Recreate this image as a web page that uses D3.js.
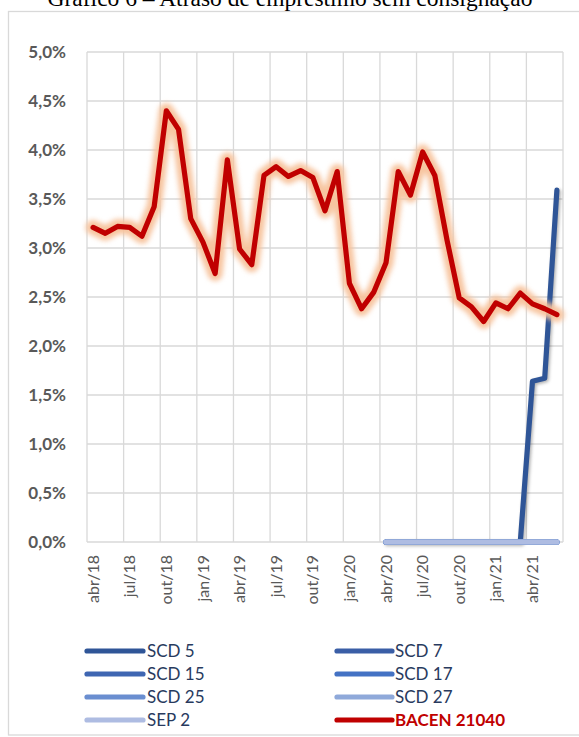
<!DOCTYPE html>
<html>
<head>
<meta charset="utf-8">
<script src="https://cdn.jsdelivr.net/npm/d3@7"></script>
<style>
  html, body { margin: 0; padding: 0; background: #fff; }
  svg { display: block; }
</style>
</head>
<body>
<div id="chart"></div>
<script>
// ---------- DATA ----------
const title = "Gráfico 6 – Atraso de empréstimo sem consignação";

const months = [
  "abr/18","mai/18","jun/18","jul/18","ago/18","set/18","out/18","nov/18","dez/18",
  "jan/19","fev/19","mar/19","abr/19","mai/19","jun/19","jul/19","ago/19","set/19","out/19","nov/19","dez/19",
  "jan/20","fev/20","mar/20","abr/20","mai/20","jun/20","jul/20","ago/20","set/20","out/20","nov/20","dez/20",
  "jan/21","fev/21","mar/21","abr/21","mai/21","jun/21"
];

const tickLabels = ["abr/18","jul/18","out/18","jan/19","abr/19","jul/19","out/19","jan/20","abr/20","jul/20","out/20","jan/21","abr/21"];

const yTicks = [0, 0.5, 1.0, 1.5, 2.0, 2.5, 3.0, 3.5, 4.0, 4.5, 5.0];

const N = null;
const bacen21040 = [
  3.21, 3.15, 3.22, 3.21, 3.12, 3.42, 4.40, 4.21, 3.30,
  3.06, 2.74, 3.90, 2.99, 2.83, 3.74, 3.83, 3.73, 3.79, 3.72, 3.38, 3.78,
  2.64, 2.38, 2.55, 2.85, 3.78, 3.54, 3.98, 3.74, 3.08, 2.49, 2.40, 2.25,
  2.44, 2.38, 2.54, 2.43, 2.38, 2.32
];
const scd5 = [
  N,N,N,N,N,N,N,N,N, N,N,N,N,N,N,N,N,N,N,N,N, N,N,N,
  0,0,0,0,0,0,0,0,0, 0,0,0, 1.64, 1.67, 3.59
];
const zerosFromAbr20 = [
  N,N,N,N,N,N,N,N,N, N,N,N,N,N,N,N,N,N,N,N,N, N,N,N,
  0,0,0,0,0,0,0,0,0, 0,0,0,0,0,0
];
const scd7 = zerosFromAbr20.slice();
const scd15 = zerosFromAbr20.slice();
const scd17 = zerosFromAbr20.slice();
const scd25 = zerosFromAbr20.slice();
const scd27 = zerosFromAbr20.slice();
const sep2 = zerosFromAbr20.slice();

const seriesNames  = ["SCD 5","SCD 7","SCD 15","SCD 17","SCD 25","SCD 27","SEP 2","BACEN 21040"];
const seriesValues = [scd5, scd7, scd15, scd17, scd25, scd27, sep2, bacen21040];
const seriesColors = ["#2F5597","#3A5EA6","#3F66B2","#4472C4","#6A8ED0","#8FA9DA","#AEBCE2","#C00000"];

// ---------- LAYOUT ----------
const W = 579, H = 737;
const plot = { left: 87, right: 563, top: 52, bottom: 542 };

const svg = d3.select("#chart").append("svg")
  .attr("width", W).attr("height", H);

const defs = svg.append("defs");
const blur = defs.append("filter").attr("id", "blur")
  .attr("filterUnits", "userSpaceOnUse")
  .attr("color-interpolation-filters", "sRGB")
  .attr("x", 0).attr("y", 0).attr("width", W).attr("height", H);
blur.append("feGaussianBlur").attr("stdDeviation", 2.5);

const shadow = defs.append("filter").attr("id", "shadow")
  .attr("filterUnits", "userSpaceOnUse")
  .attr("color-interpolation-filters", "sRGB")
  .attr("x", 0).attr("y", 0).attr("width", W).attr("height", H);
shadow.append("feDropShadow").attr("dx", 1.5).attr("dy", 1.5).attr("stdDeviation", 1.5)
  .attr("flood-color", "#000").attr("flood-opacity", 0.3);

// chart border
svg.append("rect")
  .attr("x", 8.5).attr("y", 11.5).attr("width", W + 10).attr("height", 735 - 11.5)
  .attr("fill", "none").attr("stroke", "#D9D9D9").attr("stroke-width", 1.3);

// title (partially cropped at top, as in the reference)
svg.append("text")
  .attr("x", 290).attr("y", 6)
  .attr("text-anchor", "middle")
  .attr("font-family", "'Liberation Serif','Times New Roman',serif")
  .attr("font-size", 23.5)
  .attr("fill", "#000")
  .text(title);

// scales
const x = d3.scaleBand().domain(months).range([plot.left, plot.right]);
const xc = d => x(d) + x.bandwidth() / 2;
const y = d3.scaleLinear().domain([0, 5]).range([plot.bottom, plot.top]);

const locale = d3.formatLocale({ decimal: ",", thousands: ".", grouping: [3], currency: ["R$", ""] });
const fmt = v => locale.format(".1f")(v) + "%";

// gridlines
const grid = svg.append("g").attr("stroke", "#D9D9D9").attr("stroke-width", 1.3);
yTicks.forEach(t => {
  grid.append("line").attr("x1", plot.left).attr("x2", plot.right)
    .attr("y1", y(t)).attr("y2", y(t));
});
const vLines = tickLabels.map(m => x(m)).concat([plot.right]);
vLines.forEach(vx => {
  grid.append("line").attr("x1", vx).attr("x2", vx)
    .attr("y1", plot.top).attr("y2", plot.bottom);
});

// y axis
const yAxis = d3.axisLeft(y).tickValues(yTicks).tickFormat(fmt).tickSize(0).tickPadding(0);
const yg = svg.append("g").attr("transform", `translate(66,0)`).call(yAxis);
yg.select(".domain").remove();
yg.selectAll("text")
  .attr("font-family", "Lato, 'Open Sans', sans-serif")
  .attr("font-weight", "bold")
  .attr("font-size", 17)
  .attr("fill", "#595959")
  .attr("dy", "0.35em");

// x axis
const xAxis = d3.axisBottom(x).tickValues(tickLabels).tickSize(0).tickPadding(0);
const xg = svg.append("g").attr("transform", `translate(0,${plot.bottom})`).call(xAxis);
xg.select(".domain").remove();
xg.selectAll("text")
  .attr("font-family", "Lato, 'Open Sans', sans-serif")
  .attr("font-size", 16)
  .attr("fill", "#595959")
  .attr("text-anchor", "end")
  .attr("transform", "rotate(-90)")
  .attr("x", -13)
  .attr("y", 0)
  .attr("dy", "0.35em");

// lines
const line = d3.line()
  .defined(d => d.v !== null)
  .x(d => xc(d.m))
  .y(d => y(d.v));

seriesNames.forEach((name, i) => {
  const data = months.map((m, k) => ({ m, v: seriesValues[i][k] }));
  if (name === "BACEN 21040") {
    // soft orange glow under the red line
    svg.append("path")
      .datum(data)
      .attr("d", line)
      .attr("fill", "none")
      .attr("stroke", "#F7C29B")
      .attr("stroke-opacity", 0.95)
      .attr("stroke-width", 15)
      .attr("stroke-linejoin", "round")
      .attr("stroke-linecap", "round")
      .attr("filter", "url(#blur)");
  }
  const p = svg.append("path")
    .datum(data)
    .attr("d", line)
    .attr("fill", "none")
    .attr("stroke", seriesColors[i])
    .attr("stroke-width", 5.2)
    .attr("stroke-linejoin", "round")
    .attr("stroke-linecap", "round");
  if (name === "SCD 5") p.attr("filter", "url(#shadow)");
});

// legend
const legend = svg.append("g");
const colX = [{ lx1: 87, lx2: 143, tx: 147 }, { lx1: 337, lx2: 392, tx: 395 }];
const rowY = [651, 674, 697, 720];
seriesNames.forEach((name, i) => {
  const c = colX[i % 2], ry = rowY[Math.floor(i / 2)];
  legend.append("line")
    .attr("x1", c.lx1).attr("x2", c.lx2).attr("y1", ry).attr("y2", ry)
    .attr("stroke", seriesColors[i]).attr("stroke-width", 5.2).attr("stroke-linecap", "round");
  legend.append("text")
    .attr("x", c.tx).attr("y", ry).attr("dy", "0.36em")
    .attr("font-family", "Lato, 'Open Sans', sans-serif")
    .attr("font-size", 17)
    .attr("font-weight", name === "BACEN 21040" ? "bold" : "normal")
    .attr("fill", name === "BACEN 21040" ? "#C00000" : "#283A5E")
    .text(name);
});
</script>
</body>
</html>
